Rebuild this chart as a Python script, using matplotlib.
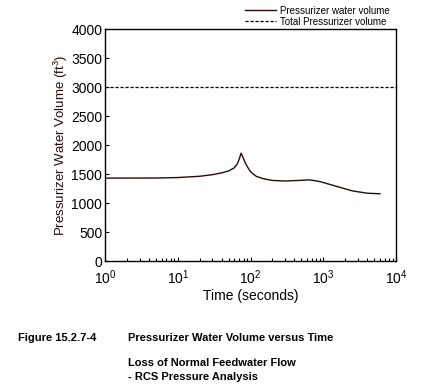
import matplotlib
matplotlib.use("Agg")
import matplotlib.pyplot as plt

plt.rcParams['font.family'] = ['Liberation Sans', 'DejaVu Sans']
plt.rcParams['mathtext.default'] = 'regular'

# pressurizer water volume (ft3) vs time (s)
time_s = [1, 5, 10, 20, 30, 40, 50, 60, 66, 70, 74, 78, 84, 90, 100, 120, 150,
          200, 300, 450, 650, 900, 1500, 2500, 4000, 6000]
water_vol = [1430, 1432, 1440, 1462, 1490, 1520, 1555, 1610, 1680, 1760, 1860,
             1800, 1700, 1630, 1540, 1460, 1420, 1390, 1380, 1390, 1400, 1370,
             1290, 1210, 1170, 1160]
total_vol = 3000

fig = plt.figure(figsize=(4.32, 3.89), dpi=100)
ax = fig.add_axes([0.243, 0.329, 0.674, 0.596])

ax.plot(time_s, water_vol, color='#2a0a0a', lw=1.0, label='Pressurizer water volume')
ax.axhline(total_vol, color='black', lw=0.9, ls=(0, (2.5, 1.5)), label='Total Pressurizer volume')

ax.set_xscale('log')
ax.set_xlim(1, 1e4)
ax.set_ylim(0, 4000)
ax.set_yticks(range(0, 4001, 500))
ax.tick_params(which='both', direction='in', labelsize=10, width=0.8)
ax.tick_params(axis='y', pad=2)
ax.tick_params(axis='x', pad=5)
ax.tick_params(which='major', length=3)
ax.tick_params(which='minor', length=2)
for s in ax.spines.values():
    s.set_linewidth(1.0)

ax.set_xlabel('Time (seconds)', fontsize=10, labelpad=2)
ax.set_ylabel('Pressurizer Water Volume (ft$^3$)', fontsize=9.5, color='#2a0a0a', labelpad=1)

fig.legend(loc='upper right', bbox_to_anchor=(0.915, 1.0), frameon=False,
           fontsize=7, handlelength=3.2, handletextpad=0.4, labelspacing=0.1,
           borderaxespad=0.2)

fig.text(18/432, 1-338/389, 'Figure 15.2.7-4', fontsize=8, weight='bold', va='center')
fig.text(128/432, 1-338/389, 'Pressurizer Water Volume versus Time', fontsize=8,
         weight='bold', va='center')
fig.text(128/432, 1-363/389, 'Loss of Normal Feedwater Flow', fontsize=8,
         weight='bold', va='center')
fig.text(128/432, 1-377/389, '- RCS Pressure Analysis', fontsize=8,
         weight='bold', va='center')

fig.savefig('out.png', dpi=100)
